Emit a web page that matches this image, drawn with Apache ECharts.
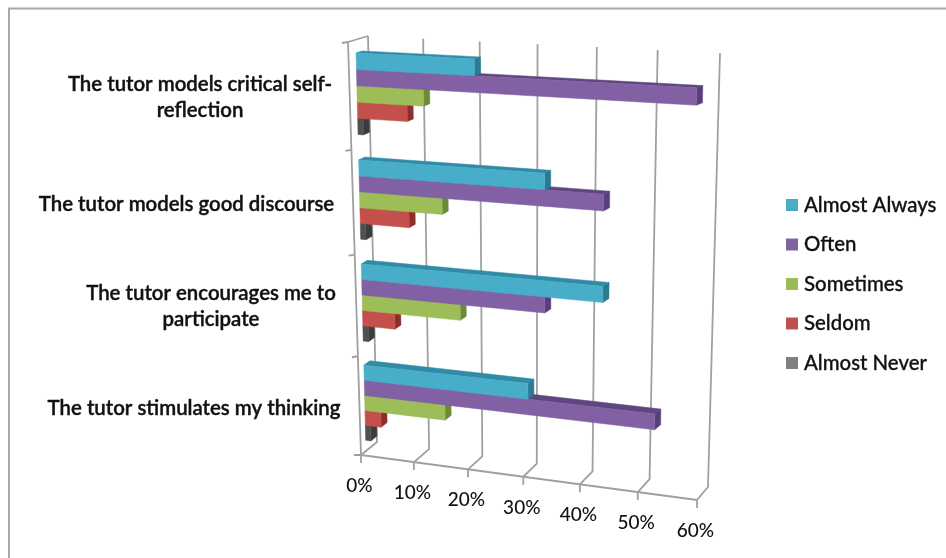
<!DOCTYPE html>
<html><head><meta charset="utf-8">
<style>html,body{margin:0;padding:0;background:#fff}#c{width:946px;height:558px;filter:blur(0.55px)}</style>
<script src="https://cdn.jsdelivr.net/npm/echarts@6/dist/echarts.min.js"></script>
</head><body><div id="c"></div>
<script>
// ---- data ----
const categories = ['The tutor models critical self-\nreflection','The tutor models good discourse','The tutor encourages me to\nparticipate','The tutor stimulates my thinking'];
const tickValues = [0,10,20,30,40,50,60];
const almostAlways = [21,33,43,30];
const often = [58,43,33,52];
const sometimes = [12,15,18,15];
const seldom = [9,9,6,3];
const almostNever = [1,1,1,1];
const seriesNames = ['Almost Always','Often','Sometimes','Seldom','Almost Never'];
const seriesValues = [almostAlways,often,sometimes,seldom,almostNever];
// ---- styles / layout ----
const legendColors = ['#4BACC6','#8064A2','#9BBB59','#C0504D','#7F7F7F'];
const frontColors = ['#48ADC9','#8161A3','#9CBD57','#C4504C','#505050'];
const topColors = ['#308CA6','#5F4680','#7A9A40','#9A3A36','#3A3A3A'];
const sideColors = ['#2B7A92','#57407A','#6C8A38','#8C2F2C','#3C3C3C'];
const GRID = {left:100,top:50,width:600,height:400};
const FONT = 'Lato';
const CAT_FONT = '600 20.4px '+FONT;
const TICK_FONT = '500 19px '+FONT;
const textColor = '#111';
const lineColor = '#A0A0A0';
const catLabelPos = [[200,97],[186.5,204],[211,306],[194,408]];

function quadMap(q){
  const [[x0,y0],[x1,y1],[x2,y2],[x3,y3]] = q;
  const dx1=x1-x2,dx2=x3-x2,sx=x0-x1+x2-x3,dy1=y1-y2,dy2=y3-y2,sy=y0-y1+y2-y3;
  const den=dx1*dy2-dx2*dy1;
  const g=(sx*dy2-dx2*sy)/den,h=(dx1*sy-sx*dy1)/den;
  const a=x1-x0+g*x1,b=x3-x0+h*x3,c=x0,d=y1-y0+g*y1,e=y3-y0+h*y3,f=y0;
  return p=>{
    const u=(p[0]-GRID.left)/GRID.width,v=(p[1]-GRID.top)/GRID.height;
    const w=g*u+h*v+1;
    return [(a*u+b*v+c)/w,(d*u+e*v+f)/w];
  };
}
const backWall = quadMap([[368,36],[720,53],[708,487],[377,442]]);
const frontPlane = quadMap([[348,42],[705,59],[697,500],[361,455]]);
const barFront = quadMap([[355.7,40],[710,57],[701,495.5],[366,452]]);
const barBack = quadMap([[361.7,38],[716,55],[707,490],[372,447]]);

const lineStyle = {stroke:lineColor,lineWidth:1.8,fill:null};
function poly(points,fill){return {type:'polygon',shape:{points},style:{fill,stroke:fill,lineWidth:0.5}};}
function line(points){return {type:'polyline',shape:{points},style:lineStyle};}

function barRender(si){
  return function(params,api){
    const val=api.value(0),cat=api.value(1);
    const c0=api.coord([0,cat]),c1=api.coord([val,cat]);
    const band=api.size([0,1])[1];
    const y0=c0[1]-0.38*band+si*0.152*band,y1=y0+0.152*band;
    const R=[[c0[0],y0],[c1[0],y0],[c1[0],y1],[c0[0],y1]];
    const F=R.map(barFront),B=R.map(barBack);
    return {type:'group',children:[
      poly([F[0],B[0],B[1],F[1]],topColors[si]),
      poly([F[1],B[1],B[2],F[2]],sideColors[si]),
      poly(F,frontColors[si])
    ]};
  };
}
function gridRender(params,api){
  const val=api.value(0);
  const t=api.coord([val,0]),band=api.size([0,1])[1];
  const top=[t[0],t[1]-band/2],bot=[t[0],t[1]+3.5*band];
  const bb=backWall(bot),fb=frontPlane(bot);
  return {type:'group',children:[
    line([backWall(top),bb,fb,[fb[0],fb[1]+8]]),
    {type:'text',style:{text:val+'%',x:fb[0]-1.5,y:fb[1]+31,align:'center',verticalAlign:'middle',font:TICK_FONT,fill:textColor}}
  ]};
}
function frameRender(params,api){
  const cat=api.value(0);
  const t=api.coord([0,cat]),band=api.size([0,1])[1];
  const a=frontPlane([t[0],t[1]-band/2]);
  const b=frontPlane([t[0],t[1]+band/2]);
  const kids=[line([[a[0]-6,a[1]+1],a]),line([a,b])];
  if(cat===0) kids.push(line([a,backWall([t[0],t[1]-band/2])]));
  if(cat===categories.length-1){
    const r=api.coord([tickValues[tickValues.length-1],cat]);
    kids.push(line([[b[0]-7,b[1]],b,frontPlane([r[0],r[1]+band/2])]));
  }
  return {type:'group',children:kids};
}
function catLabelRender(params,api){
  const i=api.value(0);
  return {type:'text',style:{text:categories[i],x:catLabelPos[i][0],y:catLabelPos[i][1],align:'center',verticalAlign:'middle',lineHeight:26,font:CAT_FONT,fill:textColor,stroke:textColor,lineWidth:0.4}};
}

const chart=echarts.init(document.getElementById('c'),null,{renderer:'canvas'});
const barSeries=seriesNames.map((name,si)=>({
  name,type:'custom',coordinateSystem:'cartesian2d',z:10-si,
  itemStyle:{color:legendColors[si]},
  renderItem:barRender(si),encode:{x:0,y:1},
  data:seriesValues[si].map((v,ci)=>[v,ci])
}));
chart.setOption({
  animation:false,backgroundColor:'#fff',tooltip:{show:false},
  grid:GRID,
  xAxis:{type:'value',min:0,max:60,interval:10,show:false},
  yAxis:{type:'category',inverse:true,data:categories,show:false},
  legend:{orient:'vertical',left:786,top:193,padding:0,itemWidth:12,itemHeight:12,itemGap:15.5,icon:'rect',
    data:seriesNames,selectedMode:false,
    textStyle:{fontFamily:FONT,fontSize:20.4,fontWeight:500,lineHeight:24,color:textColor,padding:[0,0,0,1],textBorderColor:textColor,textBorderWidth:0.3}},
  graphic:[{type:'polyline',silent:true,shape:{points:[[9,558],[9,8.5],[946,8.5]]},style:{stroke:'#A8A8A8',fill:null,lineWidth:2}}],
  series:[
    {type:'custom',z:1,renderItem:gridRender,encode:{x:0},silent:true,data:tickValues.map(v=>[v])},
    {type:'custom',z:2,renderItem:frameRender,encode:{y:0},silent:true,data:categories.map((c,i)=>[i])},
    {type:'custom',z:3,renderItem:catLabelRender,encode:{y:0},silent:true,data:categories.map((c,i)=>[i])},
    ...barSeries
  ]
});
</script></body></html>
